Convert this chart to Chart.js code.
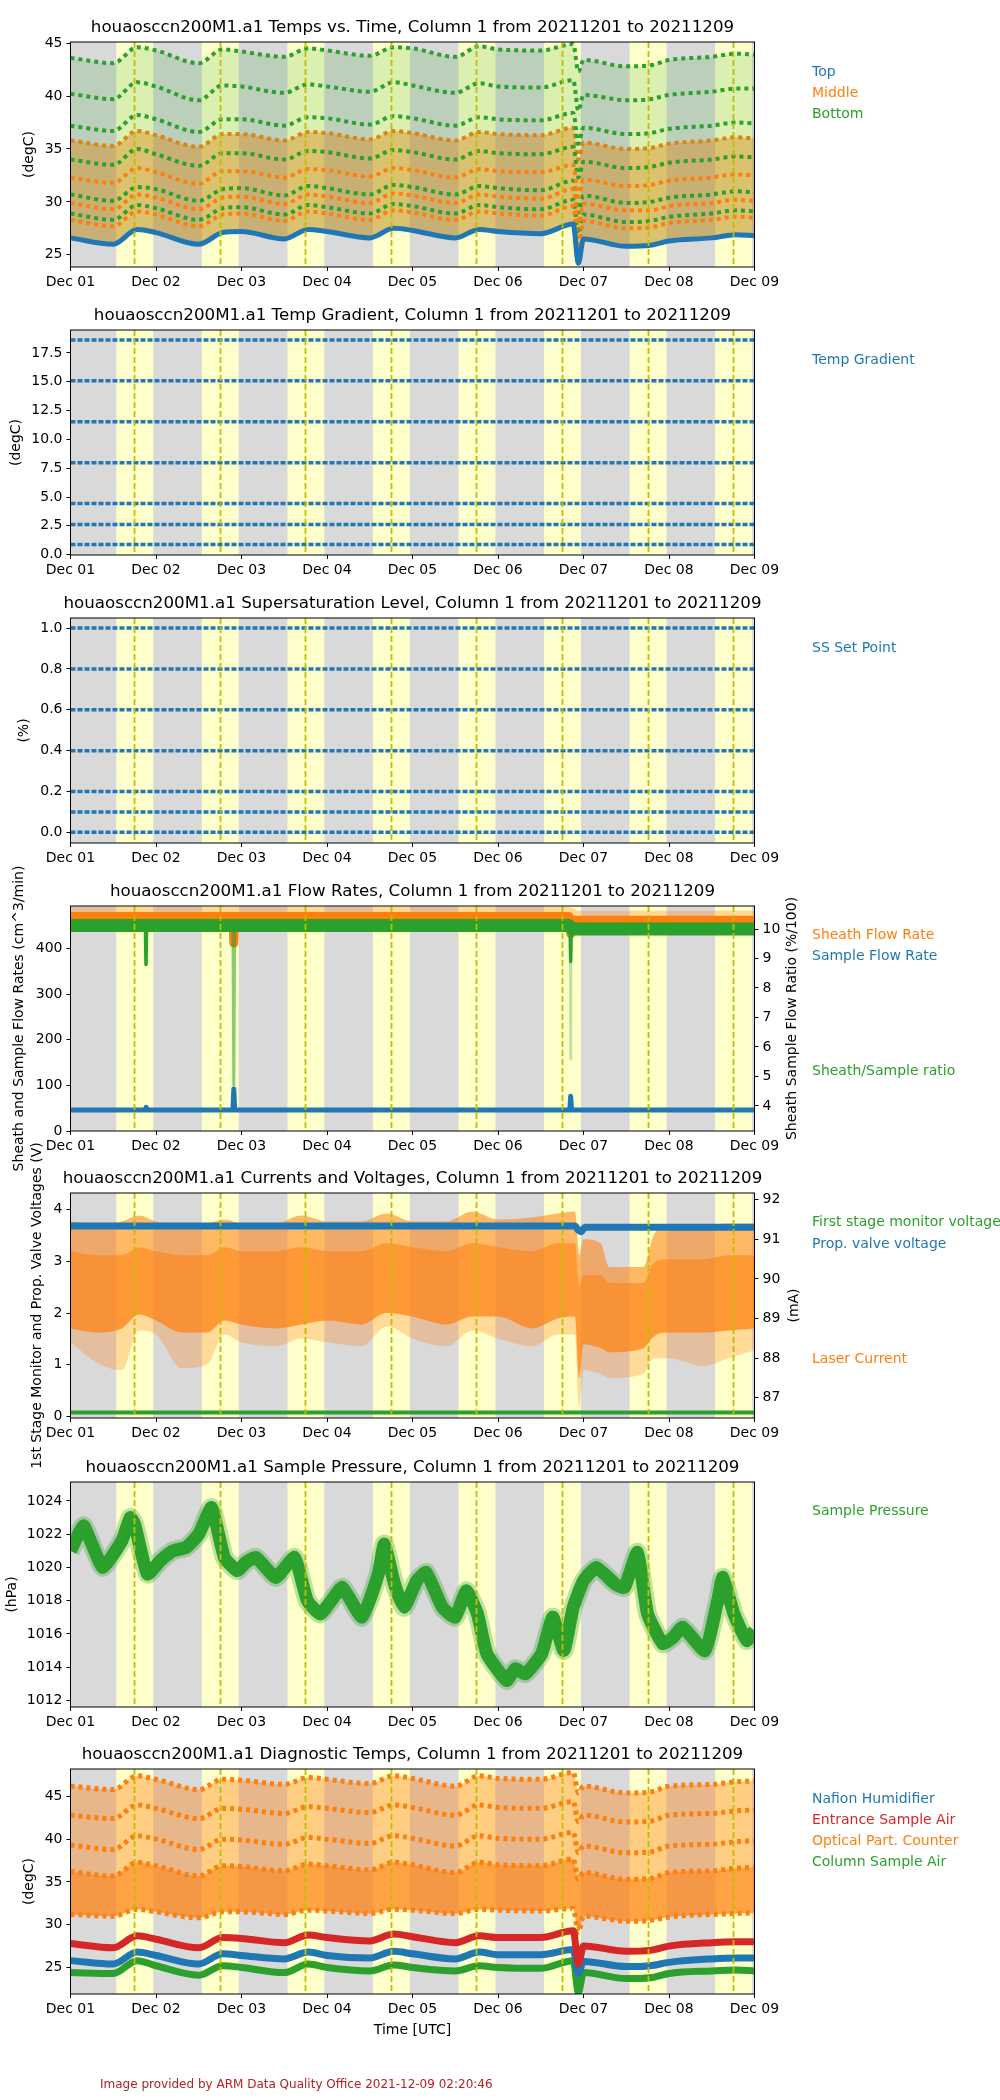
<!DOCTYPE html>
<html>
<head>
<meta charset="utf-8">
<script src="https://cdn.jsdelivr.net/npm/chart.js@4.4.1/dist/chart.umd.min.js"></script>
<style>
  body { margin: 0; background: #fff; width: 1000px; height: 2100px; position: relative; overflow: hidden; }
  canvas { position: absolute; left: 0; }
  #foot { position: absolute; left: 100px; top: 2077px; font: 12px "DejaVu Sans"; color: #b22222; white-space: nowrap; }
</style>
</head>
<body>
<canvas id="c1" width="1000" height="440"></canvas>
<canvas id="c2" width="1000" height="440"></canvas>
<canvas id="c3" width="1000" height="440"></canvas>
<canvas id="c4" width="1000" height="440"></canvas>
<canvas id="c5" width="1000" height="440"></canvas>
<canvas id="c6" width="1000" height="440"></canvas>
<canvas id="c7" width="1000" height="440"></canvas>
<div id="foot">Image provided by ARM Data Quality Office 2021-12-09 02:20:46</div>
<script>
// x axis: days since 2021-12-01 00:00 UTC
const dayTicks = [0, 1, 2, 3, 4, 5, 6, 7, 8];
const dayLabels = ['Dec 01', 'Dec 02', 'Dec 03', 'Dec 04', 'Dec 05', 'Dec 06', 'Dec 07', 'Dec 08', 'Dec 09'];
// daylight (yellow) and solar noon (dashed)
const sunrise = [0.535, 1.536, 2.537, 3.537, 4.538, 5.538, 6.539, 7.539];
const sunset = [0.968, 1.968, 2.969, 3.969, 4.970, 5.970, 6.971, 7.971];
const noon = [0.746, 1.746, 2.747, 3.747, 4.748, 5.748, 6.749, 7.749];

// panel 1: temps vs time (also time grid for panel 7)
const tT = [0, 0.5, 0.78, 1, 1.5, 1.78, 2, 2.5, 2.78, 3, 3.5, 3.78, 4, 4.5, 4.78, 5, 5.5, 5.88, 5.94, 6, 6.5, 6.78, 7, 7.5, 7.78, 8];
const topTemp = [26.6, 26.0, 27.4, 27.1, 26.0, 27.1, 27.2, 26.5, 27.4, 27.2, 26.6, 27.5, 27.3, 26.6, 27.4, 27.2, 27.0, 27.9, 24.2, 26.5, 25.8, 25.9, 26.3, 26.6, 26.9, 26.8];
const botLevel1 = [43.6, 43.1, 44.6, 44.3, 43.1, 44.4, 44.2, 43.7, 44.5, 44.3, 43.8, 44.6, 44.5, 43.7, 44.7, 44.4, 44.3, 44.9, 42.3, 43.4, 42.8, 42.9, 43.4, 43.7, 44.0, 43.9];
const botLevel2 = [40.2, 39.7, 41.3, 40.9, 39.6, 41.0, 40.9, 40.3, 41.1, 40.9, 40.4, 41.3, 41.0, 40.3, 41.2, 40.9, 40.8, 41.5, 38.6, 40.1, 39.6, 39.7, 40.1, 40.4, 40.7, 40.7];
const botLevel3 = [37.2, 36.7, 38.2, 37.8, 36.6, 37.8, 37.8, 37.2, 38.0, 37.9, 37.3, 38.1, 37.9, 37.2, 38.0, 37.8, 37.7, 38.4, 35.5, 37.0, 36.4, 36.5, 36.9, 37.2, 37.5, 37.4];
const botLevel4 = [34.0, 33.5, 35.0, 34.5, 33.4, 34.6, 34.6, 34.0, 34.8, 34.7, 34.1, 34.9, 34.7, 34.0, 34.8, 34.6, 34.5, 35.2, 32.3, 33.8, 33.2, 33.3, 33.7, 34.0, 34.3, 34.2];
const botLevel5 = [30.7, 30.1, 31.4, 31.2, 30.1, 31.2, 31.3, 30.6, 31.5, 31.3, 30.7, 31.6, 31.4, 30.7, 31.5, 31.3, 31.1, 32.0, 29.0, 30.6, 29.9, 30.0, 30.4, 30.7, 31.0, 30.9];
const botLevel6 = [28.9, 28.3, 29.7, 29.4, 28.3, 29.4, 29.5, 28.8, 29.7, 29.5, 28.9, 29.8, 29.6, 28.9, 29.7, 29.5, 29.3, 30.2, 27.0, 28.8, 28.1, 28.2, 28.6, 28.9, 29.2, 29.1];
const midLevel1 = [35.8, 35.3, 36.7, 36.3, 35.2, 36.4, 36.4, 35.8, 36.6, 36.5, 35.9, 36.7, 36.5, 35.8, 36.6, 36.4, 36.3, 37.0, 34.0, 35.6, 35.0, 35.1, 35.5, 35.8, 36.1, 36.0];
const midLevel2 = [32.3, 31.8, 33.2, 32.8, 31.7, 32.9, 32.9, 32.3, 33.1, 33.0, 32.4, 33.2, 33.0, 32.3, 33.1, 32.9, 32.8, 33.5, 30.5, 32.1, 31.5, 31.6, 32.0, 32.3, 32.6, 32.5];
const midLevel3 = [29.9, 29.3, 30.7, 30.4, 29.3, 30.4, 30.5, 29.8, 30.7, 30.5, 29.9, 30.8, 30.6, 29.9, 30.7, 30.5, 30.3, 31.2, 28.0, 29.8, 29.2, 29.2, 29.6, 29.9, 30.2, 30.1];
const midLevel4 = [28.3, 27.7, 29.1, 28.8, 27.7, 28.8, 28.9, 28.2, 29.1, 28.9, 28.3, 29.2, 29.0, 28.3, 29.1, 28.9, 28.7, 29.6, 26.0, 28.2, 27.5, 27.6, 28.0, 28.3, 28.6, 28.5];

// panel 2 / 3: set points
const gradLevels = [18.62, 15.08, 11.53, 7.98, 4.44, 2.62, 0.89];
const ssLevels = [1.0, 0.8, 0.6, 0.4, 0.2, 0.1, 0.0];

// panel 4: flow rates
const flowT = [0, 5.83, 5.87, 8];
const sheathFlow = [471, 471, 463, 463];
const flowRatio = [10.12, 10.12, 10.0, 10.0];
const sheathDipT = [0, 1.9, 1.91, 1.92, 5.83, 5.85, 5.87, 8];
const sheathDipV = [470, 470, 412, 470, 470, 432, 462, 462];
const sampleT = [0, 0.875, 0.885, 0.895, 1.9, 1.91, 1.92, 5.84, 5.85, 5.86, 8];
const sampleFlow = [46, 46, 52, 46, 46, 92, 46, 46, 76, 46, 46];
const ratioDip1T = [0.876, 0.883, 0.89];
const ratioDip1V = [10.05, 8.8, 10.05];
const ratioDip2T = [1.9, 1.91, 1.92];
const ratioDip2V = [9.95, 4.7, 9.95];
const ratioDip3T = [5.843, 5.85, 5.857];
const ratioDip3V = [10.05, 8.9, 10.0];
const ratioDip4T = [5.848, 5.85, 5.852];
const ratioDip4V = [9.0, 5.6, 9.0];

// panel 5: currents and voltages
const valveT = [0, 5.9, 5.94, 5.97, 6.02, 8];
const valveV = [3.68, 3.68, 3.6, 3.57, 3.66, 3.66];
const stageT = [0, 8];
const stageV = [0.075, 0.075];
const laserT = [0, 0.3, 0.6, 0.8, 1.0, 1.3, 1.6, 1.8, 2.0, 2.4, 2.7, 3.0, 3.4, 3.7, 4.0, 4.4, 4.7, 5.0, 5.4, 5.7, 5.9, 5.95, 6.0, 6.2, 6.3, 6.7, 6.82, 7.0, 7.4, 7.7, 8.0];
const laserTop = [91.45, 91.4, 91.45, 91.6, 91.45, 91.35, 91.4, 91.5, 91.4, 91.4, 91.6, 91.45, 91.45, 91.65, 91.45, 91.45, 91.7, 91.5, 91.55, 91.65, 91.7, 90.6, 91.0, 90.9, 90.3, 90.3, 91.1, 91.35, 91.35, 91.4, 91.4];
const laserMid = [90.7, 90.6, 90.6, 90.8, 90.7, 90.6, 90.6, 90.8, 90.7, 90.7, 90.8, 90.7, 90.7, 90.9, 90.8, 90.7, 90.9, 90.8, 90.7, 90.9, 90.9, 89.8, 90.1, 90.1, 89.9, 89.9, 90.4, 90.5, 90.5, 90.6, 90.6];
const laserLow = [88.75, 88.65, 88.75, 89.1, 88.95, 88.65, 88.65, 88.95, 88.85, 88.75, 88.85, 88.95, 88.85, 89.15, 89.05, 88.85, 89.05, 89.05, 88.75, 89.0, 89.05, 87.5, 88.35, 88.25, 88.15, 88.25, 88.55, 88.65, 88.65, 88.7, 88.75];
const laserMin = [88.4, 87.9, 87.7, 88.7, 88.6, 87.75, 87.85, 88.6, 88.4, 88.3, 88.5, 88.4, 88.3, 88.8, 88.5, 88.3, 88.7, 88.5, 88.3, 88.6, 88.6, 86.75, 87.7, 87.6, 87.5, 87.6, 88.0, 88.0, 87.8, 88.0, 88.2];

// panel 6: sample pressure
const presT = [0, 0.15, 0.25, 0.38, 0.6, 0.7, 0.75, 0.9, 1.05, 1.2, 1.35, 1.5, 1.65, 1.8, 1.95, 2.05, 2.17, 2.4, 2.62, 2.77, 2.92, 3.05, 3.18, 3.41, 3.6, 3.67, 3.79, 3.9, 4.05, 4.16, 4.35, 4.5, 4.63, 4.76, 4.87, 5.1, 5.2, 5.32, 5.51, 5.64, 5.77, 5.88, 6.0, 6.15, 6.37, 6.48, 6.63, 6.75, 6.93, 7.05, 7.16, 7.42, 7.57, 7.63, 7.76, 7.91, 8.0];
const presV = [1021.0, 1022.5, 1021.4, 1020.0, 1021.6, 1023.0, 1022.6, 1019.6, 1020.4, 1021.0, 1021.2, 1022.0, 1023.6, 1020.6, 1019.8, 1020.3, 1020.6, 1019.4, 1020.6, 1018.0, 1017.2, 1018.0, 1018.8, 1017.0, 1019.6, 1021.4, 1019.0, 1017.6, 1019.2, 1019.7, 1017.6, 1017.0, 1018.6, 1017.2, 1014.8, 1013.2, 1013.9, 1013.6, 1014.8, 1017.0, 1015.0, 1017.6, 1019.2, 1020.0, 1019.0, 1018.8, 1020.9, 1017.2, 1015.4, 1015.8, 1016.4, 1015.0, 1018.0, 1019.4, 1017.2, 1015.6, 1016.2];

// panel 7: diagnostic temps (time grid tT)
const opc1 = [46.2, 45.8, 47.4, 47.0, 45.8, 47.0, 46.9, 46.4, 47.2, 47.0, 46.5, 47.4, 47.1, 46.2, 47.4, 47.1, 47.0, 47.8, 45.4, 46.2, 45.4, 45.5, 46.2, 46.4, 46.7, 46.8];
const opc2 = [42.8, 42.4, 44.0, 43.6, 42.4, 43.6, 43.5, 43.0, 43.8, 43.6, 43.1, 44.0, 43.7, 42.8, 44.0, 43.7, 43.6, 44.4, 42.0, 42.8, 42.0, 42.1, 42.8, 43.0, 43.3, 43.4];
const opc3 = [39.3, 38.8, 40.4, 40.0, 38.8, 40.0, 39.9, 39.4, 40.2, 40.0, 39.5, 40.4, 40.1, 39.2, 40.4, 40.1, 40.0, 40.8, 38.4, 39.2, 38.4, 38.5, 39.2, 39.4, 39.7, 39.8];
const opc4 = [36.2, 35.7, 37.3, 36.9, 35.7, 36.9, 36.8, 36.3, 37.1, 36.9, 36.4, 37.3, 37.0, 36.1, 37.3, 37.0, 36.9, 37.7, 35.3, 36.1, 35.3, 35.4, 36.1, 36.3, 36.6, 36.7];
const opcLow = [31.2, 31.0, 31.8, 31.5, 30.8, 31.5, 31.5, 31.2, 31.7, 31.6, 31.3, 31.8, 31.7, 31.3, 31.8, 31.7, 31.6, 31.9, 29.1, 31.0, 30.4, 30.5, 30.9, 31.2, 31.3, 31.4];
const entranceAir = [27.8, 27.3, 28.7, 28.3, 27.3, 28.5, 28.4, 27.9, 28.8, 28.5, 28.1, 28.9, 28.6, 27.9, 28.7, 28.5, 28.5, 29.3, 25.4, 27.5, 26.9, 27.0, 27.5, 27.9, 28.0, 28.0];
const nafion = [25.8, 25.4, 26.8, 26.4, 25.4, 26.6, 26.4, 26.0, 26.8, 26.4, 26.1, 26.9, 26.6, 26.0, 26.8, 26.5, 26.5, 27.1, 24.3, 25.7, 25.1, 25.2, 25.6, 26.0, 26.1, 26.1];
const columnAir = [24.4, 24.3, 25.8, 25.2, 24.1, 25.2, 25.0, 24.4, 25.4, 25.0, 24.6, 25.3, 25.0, 24.6, 25.2, 25.0, 24.9, 25.8, 22.1, 24.4, 23.7, 23.8, 24.3, 24.6, 24.7, 24.6];

const BLUE = '#1f77b4', ORANGE = '#ff7f0e', GREEN = '#2ca02c', RED = '#d62728';
const PAD_TOP = 100, PLOT_H = 225, CANVAS_H = 440;
const plotTops = [42, 330, 618, 906, 1193, 1482, 1769];

Chart.defaults.font.family = '"DejaVu Sans"';
Chart.defaults.font.size = 14;
Chart.defaults.color = '#000';

function pts(t, v) { return t.map((x, i) => ({ x, y: v[i] })); }

function ds(t, v, o) {
  const d = Object.assign({
    data: pts(t, v), pointRadius: 0, borderWidth: 2, fill: false, clip: 0,
    cubicInterpolationMode: 'monotone', borderJoinStyle: 'round', yAxisID: 'y'
  }, o);
  d.order = -(o.z || 0);
  return d;
}

function flat(v, o) { return ds([0, 8], [v, v], o); }

// background bands, noon lines, frame and texts
const decor = {
  id: 'decor',
  beforeDatasetsDraw(chart) {
    const { ctx, chartArea: a, scales: { x } } = chart;
    ctx.save();
    ctx.fillStyle = '#d9d9d9';
    ctx.fillRect(a.left, a.top, a.width, a.height);
    ctx.fillStyle = '#ffffcc';
    sunrise.forEach((s, i) => {
      const x0 = x.getPixelForValue(s);
      const x1 = Math.min(x.getPixelForValue(sunset[i]), a.right);
      ctx.fillRect(x0, a.top, x1 - x0, a.height);
    });
    ctx.restore();
  },
  afterDatasetsDraw(chart) {
    const { ctx, chartArea: a, scales: { x } } = chart;
    ctx.save();
    ctx.strokeStyle = '#bfbf00';
    ctx.lineWidth = 1.8;
    ctx.setLineDash([6, 3]);
    noon.forEach(n => {
      const px = Math.round(x.getPixelForValue(n)) + 0.5;
      ctx.beginPath();
      ctx.moveTo(px, a.top);
      ctx.lineTo(px, a.bottom);
      ctx.stroke();
    });
    ctx.restore();
  },
  afterDraw(chart, args, o) {
    const { ctx, chartArea: a } = chart;
    ctx.save();
    ctx.strokeStyle = '#000';
    ctx.lineWidth = 1;
    ctx.strokeRect(a.left, a.top, a.width, a.height);
    ctx.textBaseline = 'middle';
    ctx.textAlign = 'center';
    ctx.fillStyle = '#000';
    ctx.font = '16.7px "DejaVu Sans"';
    ctx.fillText(o.title, (a.left + a.right) / 2, a.top - 14);
    ctx.font = '14px "DejaVu Sans"';
    ctx.textAlign = 'left';
    o.legend.forEach(([txt, col, dy]) => {
      ctx.fillStyle = col;
      ctx.fillText(txt, 812, a.top + dy);
    });
    ctx.fillStyle = '#000';
    ctx.textAlign = 'center';
    const cy = (a.top + a.bottom) / 2;
    [o.yl, o.yr].forEach(l => {
      if (!l) return;
      ctx.save();
      ctx.translate(l.x, cy);
      ctx.rotate(-Math.PI / 2);
      ctx.fillText(l.text, 0, 0);
      ctx.restore();
    });
    if (o.xl) ctx.fillText(o.xl, (a.left + a.right) / 2, a.bottom + 36);
    ctx.restore();
  }
};

function xScale() {
  return {
    type: 'linear', min: 0, max: 8,
    afterBuildTicks: ax => { ax.ticks = dayTicks.map(v => ({ value: v })); },
    afterFit: ax => { ax.height = 24; },
    ticks: { callback: v => dayLabels[v], maxRotation: 0, autoSkip: false, padding: 3 },
    grid: { display: true, drawOnChartArea: false, drawTicks: true, tickLength: 4, color: '#000' },
    border: { display: false }
  };
}

function yScale(min, max, ticks, fmt, pos) {
  return {
    type: 'linear', position: pos || 'left', min, max,
    afterBuildTicks: ax => { ax.ticks = ticks.map(v => ({ value: v })); },
    afterFit: ax => { ax.width = pos === 'right' ? 50 : 60; },
    ticks: { callback: fmt || (v => String(v)), padding: 4, autoSkip: false },
    grid: { display: true, drawOnChartArea: false, drawTicks: true, tickLength: 4, color: '#000' },
    border: { display: false }
  };
}

function makeChart(n, datasets, scales, deco) {
  const cv = document.getElementById('c' + n);
  cv.style.top = (plotTops[n - 1] - PAD_TOP) + 'px';
  const right = !!scales.y1;
  return new Chart(cv, {
    type: 'line',
    data: { datasets },
    options: {
      responsive: false, animation: false, events: [],
      layout: { padding: { top: PAD_TOP, bottom: CANVAS_H - PAD_TOP - PLOT_H - 24, left: 10.5, right: right ? 195.5 : 245.5 } },
      scales: Object.assign({ x: xScale() }, scales),
      plugins: { legend: { display: false }, tooltip: { enabled: false }, decor: deco }
    },
    plugins: [decor]
  });
}

const sfx = ' Column 1 from 20211201 to 20211209';
const dotted = [4, 4];
const none = 'rgba(0,0,0,0)';

// ---- panel 1
makeChart(1, [
  ds(tT, topTemp, { borderColor: BLUE, borderWidth: 5, z: 20 }),
  ds(tT, botLevel1, { borderColor: GREEN, borderWidth: 4, borderDash: dotted, fill: { target: 0 }, backgroundColor: 'rgba(44,160,44,0.17)', z: 5 }),
  ds(tT, midLevel1, { borderColor: ORANGE, borderWidth: 4, borderDash: dotted, fill: { target: 0 }, backgroundColor: 'rgba(255,127,14,0.42)', z: 2 }),
  ds(tT, botLevel2, { borderColor: GREEN, borderWidth: 4, borderDash: dotted, z: 6 }),
  ds(tT, botLevel3, { borderColor: GREEN, borderWidth: 4, borderDash: dotted, z: 6 }),
  ds(tT, botLevel4, { borderColor: GREEN, borderWidth: 4, borderDash: dotted, z: 6 }),
  ds(tT, botLevel5, { borderColor: GREEN, borderWidth: 4, borderDash: dotted, z: 6 }),
  ds(tT, botLevel6, { borderColor: GREEN, borderWidth: 4, borderDash: dotted, z: 6 }),
  ds(tT, midLevel2, { borderColor: ORANGE, borderWidth: 4, borderDash: dotted, z: 7 }),
  ds(tT, midLevel3, { borderColor: ORANGE, borderWidth: 4, borderDash: dotted, z: 7 }),
  ds(tT, midLevel4, { borderColor: ORANGE, borderWidth: 4, borderDash: dotted, z: 7 })
], { y: yScale(23.85, 45.1, [25, 30, 35, 40, 45]) }, {
  title: 'houaosccn200M1.a1 Temps vs. Time,' + sfx,
  legend: [['Top', BLUE, 30], ['Middle', ORANGE, 51], ['Bottom', GREEN, 72]],
  yl: { text: '(degC)', x: 29 }
});

// ---- panel 2
makeChart(2, gradLevels.map(v => flat(v, { borderColor: BLUE, borderWidth: 3.5, borderDash: [5, 2] })),
  { y: yScale(-0.03, 19.49, [0, 2.5, 5, 7.5, 10, 12.5, 15, 17.5], v => v.toFixed(1)) }, {
  title: 'houaosccn200M1.a1 Temp Gradient,' + sfx,
  legend: [['Temp Gradient', BLUE, 30]],
  yl: { text: '(degC)', x: 16 }
});

// ---- panel 3
makeChart(3, ssLevels.map(v => flat(v, { borderColor: BLUE, borderWidth: 3.5, borderDash: [5, 2] })),
  { y: yScale(-0.052, 1.049, [0, 0.2, 0.4, 0.6, 0.8, 1.0], v => v.toFixed(1)) }, {
  title: 'houaosccn200M1.a1 Supersaturation Level,' + sfx,
  legend: [['SS Set Point', BLUE, 30]],
  yl: { text: '(%)', x: 24 }
});

// ---- panel 4
makeChart(4, [
  ds(flowT, sheathFlow, { borderColor: 'rgba(255,127,14,0.3)', borderWidth: 18, z: 1 }),
  ds(sheathDipT, sheathDipV, { borderColor: ORANGE, borderWidth: 9, cubicInterpolationMode: 'default', tension: 0, z: 2 }),
  ds(flowT, flowRatio, { borderColor: GREEN, borderWidth: 13, yAxisID: 'y1', z: 3 }),
  ds(ratioDip1T, ratioDip1V, { borderColor: GREEN, borderWidth: 3.5, cubicInterpolationMode: 'default', tension: 0, yAxisID: 'y1', z: 4 }),
  ds(ratioDip2T, ratioDip2V, { borderColor: 'rgba(44,160,44,0.55)', borderWidth: 3, cubicInterpolationMode: 'default', tension: 0, yAxisID: 'y1', z: 4 }),
  ds(ratioDip3T, ratioDip3V, { borderColor: GREEN, borderWidth: 3.5, cubicInterpolationMode: 'default', tension: 0, yAxisID: 'y1', z: 4 }),
  ds(ratioDip4T, ratioDip4V, { borderColor: 'rgba(44,160,44,0.3)', borderWidth: 3, cubicInterpolationMode: 'default', tension: 0, yAxisID: 'y1', z: 4 }),
  ds(sampleT, sampleFlow, { borderColor: BLUE, borderWidth: 5, cubicInterpolationMode: 'default', tension: 0, z: 6 })
], {
  y: yScale(0, 493, [0, 100, 200, 300, 400]),
  y1: yScale(3.15, 10.78, [4, 5, 6, 7, 8, 9, 10], null, 'right')
}, {
  title: 'houaosccn200M1.a1 Flow Rates,' + sfx,
  legend: [['Sheath Flow Rate', ORANGE, 29], ['Sample Flow Rate', BLUE, 50], ['Sheath/Sample ratio', GREEN, 165]],
  yl: { text: 'Sheath and Sample Flow Rates (cm^3/min)', x: 19 },
  yr: { text: 'Sheath Sample Flow Ratio (%/100)', x: 792 }
});

// ---- panel 5
makeChart(5, [
  ds(laserT, laserMin, { borderWidth: 0, borderColor: none, yAxisID: 'y1', z: 0 }),
  ds(laserT, laserLow, { borderWidth: 0, borderColor: none, fill: { target: 0 }, backgroundColor: 'rgba(255,127,14,0.28)', yAxisID: 'y1', z: 1 }),
  ds(laserT, laserTop, { borderWidth: 0, borderColor: none, fill: { target: 1 }, backgroundColor: 'rgba(255,127,14,0.55)', yAxisID: 'y1', z: 2 }),
  ds(laserT, laserMid, { borderWidth: 0, borderColor: none, fill: { target: 1 }, backgroundColor: 'rgba(255,127,14,0.55)', yAxisID: 'y1', z: 3 }),
  ds(valveT, valveV, { borderColor: BLUE, borderWidth: 7, z: 10 }),
  ds(stageT, stageV, { borderColor: GREEN, borderWidth: 4, z: 11 })
], {
  y: yScale(-0.03, 4.32, [0, 1, 2, 3, 4]),
  y1: yScale(86.49, 92.17, [87, 88, 89, 90, 91, 92], null, 'right')
}, {
  title: 'houaosccn200M1.a1 Currents and Voltages,' + sfx,
  legend: [['First stage monitor voltage', GREEN, 29], ['Prop. valve voltage', BLUE, 51], ['Laser Current', ORANGE, 166]],
  yl: { text: '1st Stage Monitor and Prop. Valve Voltages (V)', x: 37 },
  yr: { text: '(mA)', x: 794 }
});

// ---- panel 6
makeChart(6, [
  ds(presT, presV, { borderColor: 'rgba(44,160,44,0.3)', borderWidth: 19, cubicInterpolationMode: 'default', tension: 0.15, z: 0 }),
  ds(presT, presV, { borderColor: GREEN, borderWidth: 13, cubicInterpolationMode: 'default', tension: 0.15, z: 1 })
], { y: yScale(1011.6, 1025.14, [1012, 1014, 1016, 1018, 1020, 1022, 1024]) }, {
  title: 'houaosccn200M1.a1 Sample Pressure,' + sfx,
  legend: [['Sample Pressure', GREEN, 29]],
  yl: { text: '(hPa)', x: 12 }
});

// ---- panel 7
makeChart(7, [
  ds(tT, opcLow, { borderColor: ORANGE, borderWidth: 5, borderDash: dotted, z: 3 }),
  ds(tT, opc1, { borderColor: ORANGE, borderWidth: 5, borderDash: dotted, fill: { target: 0 }, backgroundColor: 'rgba(255,127,14,0.38)', z: 1 }),
  ds(tT, opc4, { borderColor: ORANGE, borderWidth: 5, borderDash: dotted, fill: { target: 0 }, backgroundColor: 'rgba(255,127,14,0.55)', z: 2 }),
  ds(tT, opc2, { borderColor: ORANGE, borderWidth: 5, borderDash: dotted, z: 3 }),
  ds(tT, opc3, { borderColor: ORANGE, borderWidth: 5, borderDash: dotted, z: 3 }),
  ds(tT, columnAir, { borderColor: GREEN, borderWidth: 7, z: 10 }),
  ds(tT, nafion, { borderColor: BLUE, borderWidth: 7, z: 11 }),
  ds(tT, entranceAir, { borderColor: RED, borderWidth: 7, z: 12 })
], { y: yScale(21.9, 48.2, [25, 30, 35, 40, 45]) }, {
  title: 'houaosccn200M1.a1 Diagnostic Temps,' + sfx,
  legend: [['Nafion Humidifier', BLUE, 30], ['Entrance Sample Air', RED, 51], ['Optical Part. Counter', ORANGE, 72], ['Column Sample Air', GREEN, 93]],
  yl: { text: '(degC)', x: 29 },
  xl: 'Time [UTC]'
});
</script>
</body>
</html>
